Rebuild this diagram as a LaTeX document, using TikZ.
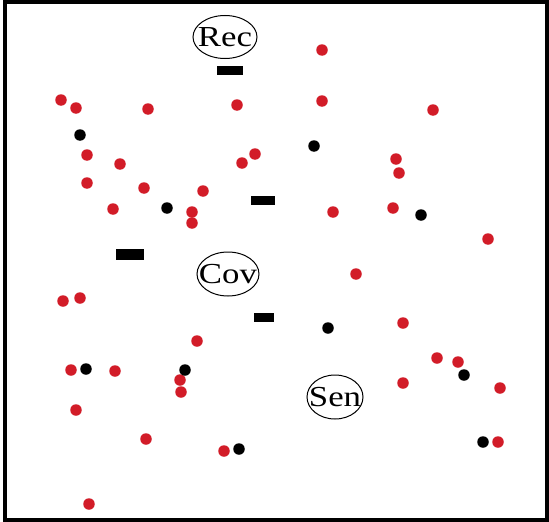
\documentclass[tikz,border=0pt]{standalone}
\usepackage{fontspec}
\setmainfont{Liberation Serif}
\definecolor{dotred}{RGB}{210,28,40}
\begin{document}
\begin{tikzpicture}[x=1pt,y=-1pt,
  rd/.style={circle,fill=dotred,inner sep=0pt,minimum size=11.5pt},
  bk/.style={circle,fill=black,inner sep=0pt,minimum size=11.5pt},
  barbox/.style={fill=black,inner sep=0pt},
  lab/.style={inner sep=0pt,font=\fontsize{29}{29}\selectfont},
  ring/.style={line width=1pt}
]
\useasboundingbox (0,0) rectangle (549,522);
\fill[white] (0,0) rectangle (549,522);
\draw[line width=4pt] (4.5,2) rectangle (547,520);

% labelled ellipses
\node[lab] (rec) at (225,37) {\scalebox{1.2}[1]{Rec}};
\draw[ring] (rec.center) ellipse [x radius=32pt, y radius=21.5pt];
\node[lab] (cov) at (228,274) {\scalebox{1.2}[1]{Cov}};
\draw[ring] (cov.center) ellipse [x radius=31pt, y radius=22pt];
\node[lab] (sen) at (335,397) {\scalebox{1.2}[1]{Sen}};
\draw[ring] (sen.center) ellipse [x radius=28pt, y radius=22pt];

% black bars
\node[barbox,minimum width=26pt,minimum height=9pt] (b1) at (230,70.5) {};
\node[barbox,minimum width=24pt,minimum height=9pt] (b2) at (262.5,200.5) {};
\node[barbox,minimum width=28pt,minimum height=11pt] (b3) at (130,254.5) {};
\node[barbox,minimum width=20pt,minimum height=9pt] (b4) at (264,317.5) {};

% red dots
\node[rd] (r1) at (322,50) {};
\node[rd] (r2) at (61,100) {};
\node[rd] (r3) at (76,108) {};
\node[rd] (r4) at (148,109) {};
\node[rd] (r5) at (237,105) {};
\node[rd] (r6) at (322,101) {};
\node[rd] (r7) at (433,110) {};
\node[rd] (r8) at (87,155) {};
\node[rd] (r9) at (120,164) {};
\node[rd] (r10) at (255,154) {};
\node[rd] (r11) at (242,163) {};
\node[rd] (r12) at (396,159) {};
\node[rd] (r13) at (399,173) {};
\node[rd] (r14) at (87,183) {};
\node[rd] (r15) at (144,188) {};
\node[rd] (r16) at (203,191) {};
\node[rd] (r17) at (113,209) {};
\node[rd] (r18) at (192,212) {};
\node[rd] (r19) at (192,223) {};
\node[rd] (r20) at (333,212) {};
\node[rd] (r21) at (393,208) {};
\node[rd] (r22) at (488,239) {};
\node[rd] (r23) at (356,274) {};
\node[rd] (r24) at (63,301) {};
\node[rd] (r25) at (80,298) {};
\node[rd] (r26) at (403,323) {};
\node[rd] (r27) at (197,341) {};
\node[rd] (r28) at (71,370) {};
\node[rd] (r29) at (115,371) {};
\node[rd] (r30) at (180,380) {};
\node[rd] (r31) at (181,392) {};
\node[rd] (r32) at (437,358) {};
\node[rd] (r33) at (458,362) {};
\node[rd] (r34) at (403,383) {};
\node[rd] (r35) at (500,388) {};
\node[rd] (r36) at (76,410) {};
\node[rd] (r37) at (146,439) {};
\node[rd] (r38) at (224,451) {};
\node[rd] (r39) at (498,442) {};
\node[rd] (r40) at (89,504) {};

% black dots
\node[bk] (k1) at (80,135) {};
\node[bk] (k2) at (314,146) {};
\node[bk] (k3) at (167,208) {};
\node[bk] (k4) at (421,215) {};
\node[bk] (k5) at (328,328) {};
\node[bk] (k6) at (86,369) {};
\node[bk] (k7) at (185,370) {};
\node[bk] (k8) at (464,375) {};
\node[bk] (k9) at (239,449) {};
\node[bk] (k10) at (483,442) {};
\end{tikzpicture}
\end{document}
